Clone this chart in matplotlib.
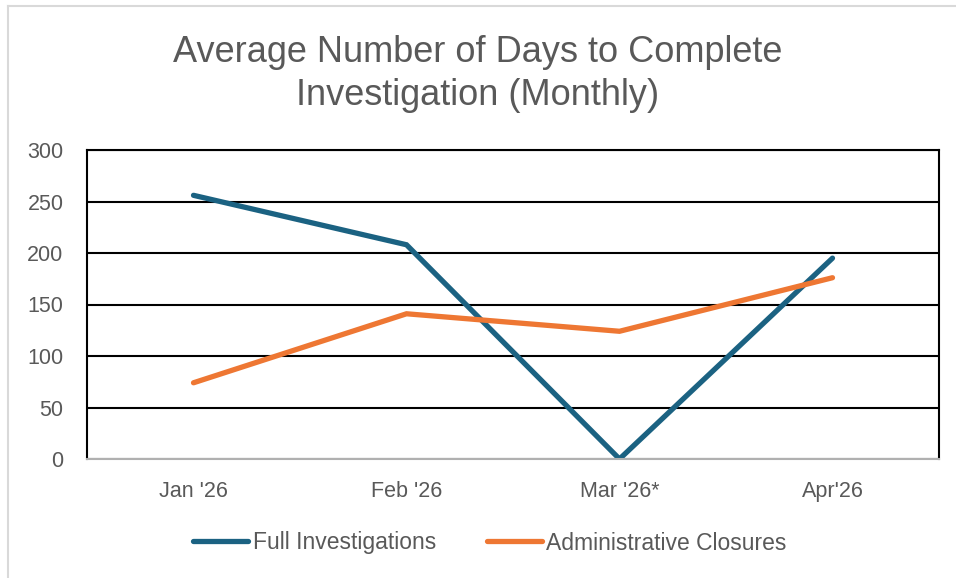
import matplotlib.pyplot as plt
from matplotlib.lines import Line2D

months = ["Jan '26", "Feb '26", "Mar '26*", "Apr'26"]
full_inv = [256, 208, 0, 195]
admin_close = [74, 141, 124, 176]

plt.rcParams['font.family'] = ['Liberation Sans', 'DejaVu Sans']

fig = plt.figure(figsize=(9.56, 5.78), dpi=100)
ax = fig.add_axes([87/956, 1-459/578, (939-87)/956, (459-150)/578])

x = range(len(months))
ax.plot(x, full_inv, color='#1b6282', lw=3.8, solid_capstyle='round', solid_joinstyle='miter',
        label='Full Investigations')
ax.plot(x, admin_close, color='#ee7733', lw=3.8, solid_capstyle='round', solid_joinstyle='miter',
        label='Administrative Closures')

ax.set_xlim(-0.5, 3.5)
ax.set_ylim(0, 300)
ax.set_yticks(range(0, 301, 50))
ax.set_xticks(list(x))
ax.set_xticklabels(months)
ax.yaxis.grid(True, color='black', lw=1.5)
ax.set_axisbelow(True)
ax.tick_params(length=0, labelsize=15.5, colors='#595959')
ax.tick_params(axis='x', pad=16)
ax.tick_params(axis='y', pad=17)
for s in ['left', 'top', 'right']:
    ax.spines[s].set_color('black')
    ax.spines[s].set_linewidth(1.5)
ax.spines['bottom'].set_color('#b0b0b0')
ax.spines['bottom'].set_linewidth(1.5)

fig.text(0.5, 1-74/578, 'Average Number of Days to Complete\nInvestigation (Monthly)',
         ha='center', va='center', fontsize=26, color='#595959', linespacing=1.32)

ax.legend(loc='center', bbox_to_anchor=((490-87)/852, 1-(543-150)/309), ncol=2, frameon=False,
          fontsize=16.5, labelcolor='#595959', handlelength=2.4, handletextpad=0.2,
          columnspacing=2.2)

# light frame of the chart area
fig.add_artist(Line2D([8/956, 8/956], [0, 1-6/578], color='#d9d9d9', lw=1.5))
fig.add_artist(Line2D([8/956, 1], [1-6/578, 1-6/578], color='#d9d9d9', lw=1.5))

fig.savefig('out.png', dpi=100)
